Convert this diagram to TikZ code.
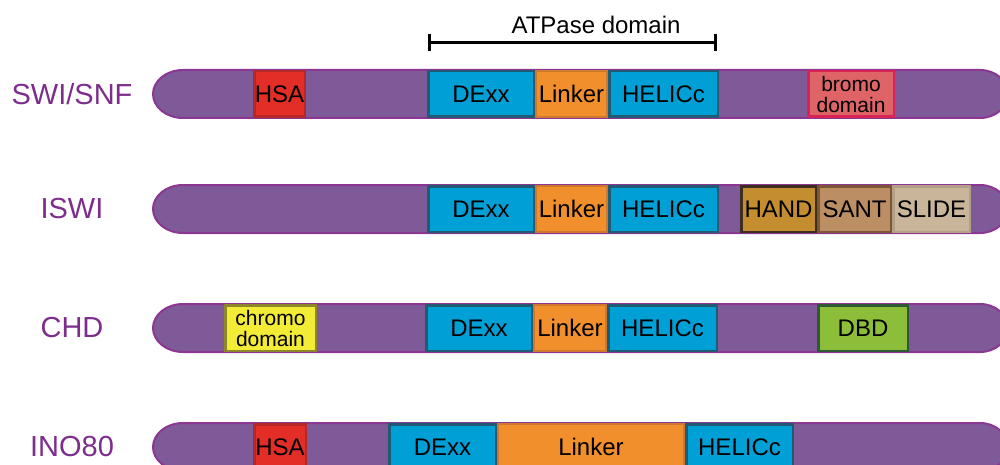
\documentclass[tikz,border=0pt]{standalone}
\usepackage{fontspec}
\setmainfont{Liberation Sans}
\usetikzlibrary{calc}

\definecolor{barFill}{RGB}{126,90,152}
\definecolor{barEdge}{RGB}{140,55,145}
\definecolor{nameCol}{RGB}{125,45,140}
\definecolor{blueFill}{RGB}{0,159,214}
\definecolor{blueEdge}{RGB}{35,90,115}
\definecolor{orangeFill}{RGB}{240,143,43}
\definecolor{orangeEdge}{RGB}{205,120,45}
\definecolor{hsaFill}{RGB}{226,46,38}
\definecolor{hsaEdge}{RGB}{180,40,40}
\definecolor{bromoFill}{RGB}{222,100,104}
\definecolor{bromoEdge}{RGB}{215,35,85}
\definecolor{handFill}{RGB}{196,142,48}
\definecolor{handEdge}{RGB}{60,45,30}
\definecolor{santFill}{RGB}{188,142,100}
\definecolor{santEdge}{RGB}{125,85,55}
\definecolor{slideFill}{RGB}{201,181,153}
\definecolor{slideEdge}{RGB}{180,160,135}
\definecolor{chromoFill}{RGB}{243,236,55}
\definecolor{chromoEdge}{RGB}{140,135,40}
\definecolor{dbdFill}{RGB}{141,190,58}
\definecolor{dbdEdge}{RGB}{45,90,50}

\begin{document}
\begin{tikzpicture}[x=1pt,y=1pt,
    bar/.style={draw=barEdge,fill=barFill,line width=2pt},
    dom/.style={draw,line width=2.5pt,inner sep=0pt,minimum height=45.5pt,
        align=center,font=\fontsize{24}{20}\selectfont},
    twoline/.style={dom,font=\fontsize{21}{21}\selectfont},
    blue/.style={dom,fill=blueFill,draw=blueEdge},
    orange/.style={dom,fill=orangeFill,draw=orangeEdge,line width=2pt},
    protein/.style={text=nameCol,font=\fontsize{29}{32}\selectfont}]
    % Fix the frame of the picture
    \clip (0,0) rectangle (1000,-465);

    % Draw the protein bars
    \foreach \y in {94,209,328,447} {
        \draw[bar] (183,-\y+24) -- (980,-\y+24)
            arc[start angle=90,end angle=-90,x radius=28,y radius=24]
            -- (183,-\y-24)
            arc[start angle=270,end angle=90,x radius=30,y radius=24] -- cycle;
    }

    % Place the protein names
    \node[protein] (swi) at (72,-94) {SWI/SNF};
    \node[protein] (iswi) at (72,-209) {ISWI};
    \node[protein] (chd) at (72,-328) {CHD};
    \node[protein] (ino) at (72,-447) {INO80};

    % Draw the ATPase bracket
    \coordinate (atpL) at (429,-43);
    \coordinate (atpR) at (715,-43);
    \draw[line width=3pt] (atpL) -- (atpR);
    \draw[line width=3pt] ($(atpL)+(0,8.5)$) -- ($(atpL)+(0,-8.5)$);
    \draw[line width=3pt] ($(atpR)+(0,8.5)$) -- ($(atpR)+(0,-8.5)$);
    \node[anchor=base,font=\fontsize{24}{28}\selectfont] (atp) at (596,-34) {ATPase domain};

    % SWI/SNF domains
    \node[dom,fill=hsaFill,draw=hsaEdge,minimum width=50.5pt] (hsaA) at (279.5,-94) {HSA};
    \node[blue,minimum width=105.5pt] (dexxA) at (481,-94) {DExx};
    \node[orange,minimum width=71pt] (linkA) at (571.5,-94) {Linker};
    \node[blue,minimum width=108.5pt] (helA) at (663.5,-94) {HELICc};
    \node[twoline,fill=bromoFill,draw=bromoEdge,minimum width=85.5pt] (bromo) at (851,-94) {bromo\\domain};

    % ISWI domains
    \node[blue,minimum width=105.5pt] (dexxB) at (481,-209) {DExx};
    \node[orange,minimum width=71pt] (linkB) at (571.5,-209) {Linker};
    \node[blue,minimum width=108.5pt] (helB) at (663.5,-209) {HELICc};
    \node[dom,fill=handFill,draw=handEdge,minimum width=74.5pt] (hand) at (778.5,-209) {HAND};
    \node[dom,fill=santFill,draw=santEdge,minimum width=72.5pt] (sant) at (854.5,-209) {SANT};
    \node[dom,fill=slideFill,draw=slideEdge,minimum width=76.5pt] (slide) at (931.5,-209) {SLIDE};

    % CHD domains
    \node[twoline,fill=chromoFill,draw=chromoEdge,minimum width=90.5pt] (chromo) at (270.5,-328) {chromo\\domain};
    \node[blue,minimum width=105.5pt] (dexxC) at (479,-328) {DExx};
    \node[orange,minimum width=72pt] (linkC) at (570,-328) {Linker};
    \node[blue,minimum width=108.5pt] (helC) at (662.5,-328) {HELICc};
    \node[dom,fill=dbdFill,draw=dbdEdge,minimum width=89.5pt] (dbd) at (863,-328) {DBD};

    % INO80 domains
    \node[dom,fill=hsaFill,draw=hsaEdge,minimum width=51.5pt] (hsaD) at (280,-447) {HSA};
    \node[blue,minimum width=106.5pt] (dexxD) at (442.5,-447) {DExx};
    \node[orange,minimum width=186pt] (linkD) at (591,-447) {Linker};
    \node[blue,minimum width=106.5pt] (helD) at (739.5,-447) {HELICc};
\end{tikzpicture}
\end{document}
